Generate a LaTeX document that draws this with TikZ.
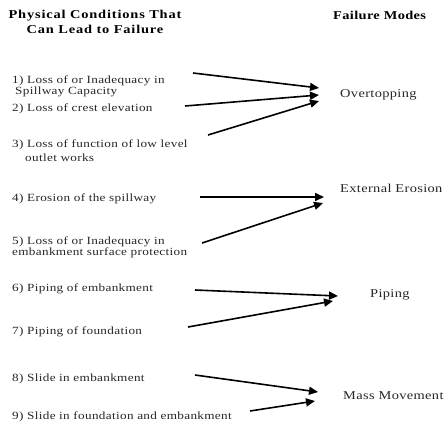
\documentclass[tikz,border=0pt]{standalone}
\usepackage{fontspec}
\setmainfont{Liberation Serif}[LetterSpace=3,FakeStretch=1.2]
\usetikzlibrary{arrows.meta}
\begin{document}
\begin{tikzpicture}[x=1pt,y=-1pt,
  txt/.style={anchor=west,inner sep=0pt,font=\fontsize{11}{12}\selectfont,text=black!85},
  hdr/.style={inner sep=0pt,font=\fontsize{12}{15}\selectfont\bfseries,align=center},
  mode/.style={anchor=west,inner sep=0pt,font=\fontsize{12}{13}\selectfont,text=black!85},
  arr/.style={line width=1.6pt,-{Triangle[length=9pt,width=8pt]}}]
\useasboundingbox (0,0) rectangle (447,423);
% headers
\node[hdr] (h1) at (95,22) {\addfontfeature{LetterSpace=7}Physical Conditions That\\\addfontfeature{LetterSpace=7}Can Lead to Failure};
\node[hdr,anchor=west] (h2) at (333,15) {Failure Modes};
% conditions
\node[txt] (c1a) at (12,81) {1) Loss of or Inadequacy in};
\node[txt] (c1b) at (15,92) {Spillway Capacity};
\node[txt] (c2) at (12,109) {2) Loss of crest elevation};
\node[txt] (c3a) at (12,145) {3) Loss of function of low level};
\node[txt] (c3b) at (25,158) {outlet works};
\node[txt] (c4) at (12,199) {4) Erosion of the spillway};
\node[txt] (c5a) at (12,242) {5) Loss of or Inadequacy in};
\node[txt] (c5b) at (12,253) {embankment surface protection};
\node[txt] (c6) at (12,289) {6) Piping of embankment};
\node[txt] (c7) at (12,332) {7) Piping of foundation};
\node[txt] (c8) at (12,379) {8) Slide in embankment};
\node[txt] (c9) at (12,417) {9) Slide in foundation and embankment};
% modes
\node[mode] (m1) at (340,95) {Overtopping};
\node[mode] (m2) at (340,188) {External Erosion};
\node[mode] (m3) at (370,295) {Piping};
\node[mode] (m4) at (343,396) {Mass Movement};
% arrow anchors
\coordinate (s1) at (193,73);  \coordinate (e1) at (319,88);
\coordinate (s2) at (185,106); \coordinate (e2) at (319,95);
\coordinate (s3) at (208,135); \coordinate (e3) at (319,101);
\coordinate (s4) at (200,197); \coordinate (e4) at (324,197);
\coordinate (s5) at (202,243); \coordinate (e5) at (323,203);
\coordinate (s6) at (195,290); \coordinate (e6) at (338,296);
\coordinate (s7) at (188,327); \coordinate (e7) at (333,301);
\coordinate (s8) at (195,375); \coordinate (e8) at (318,392);
\coordinate (s9) at (250,411); \coordinate (e9) at (315,401);
\foreach \i in {1,...,9} {\draw[arr] (s\i) -- (e\i);}
\end{tikzpicture}
\end{document}
